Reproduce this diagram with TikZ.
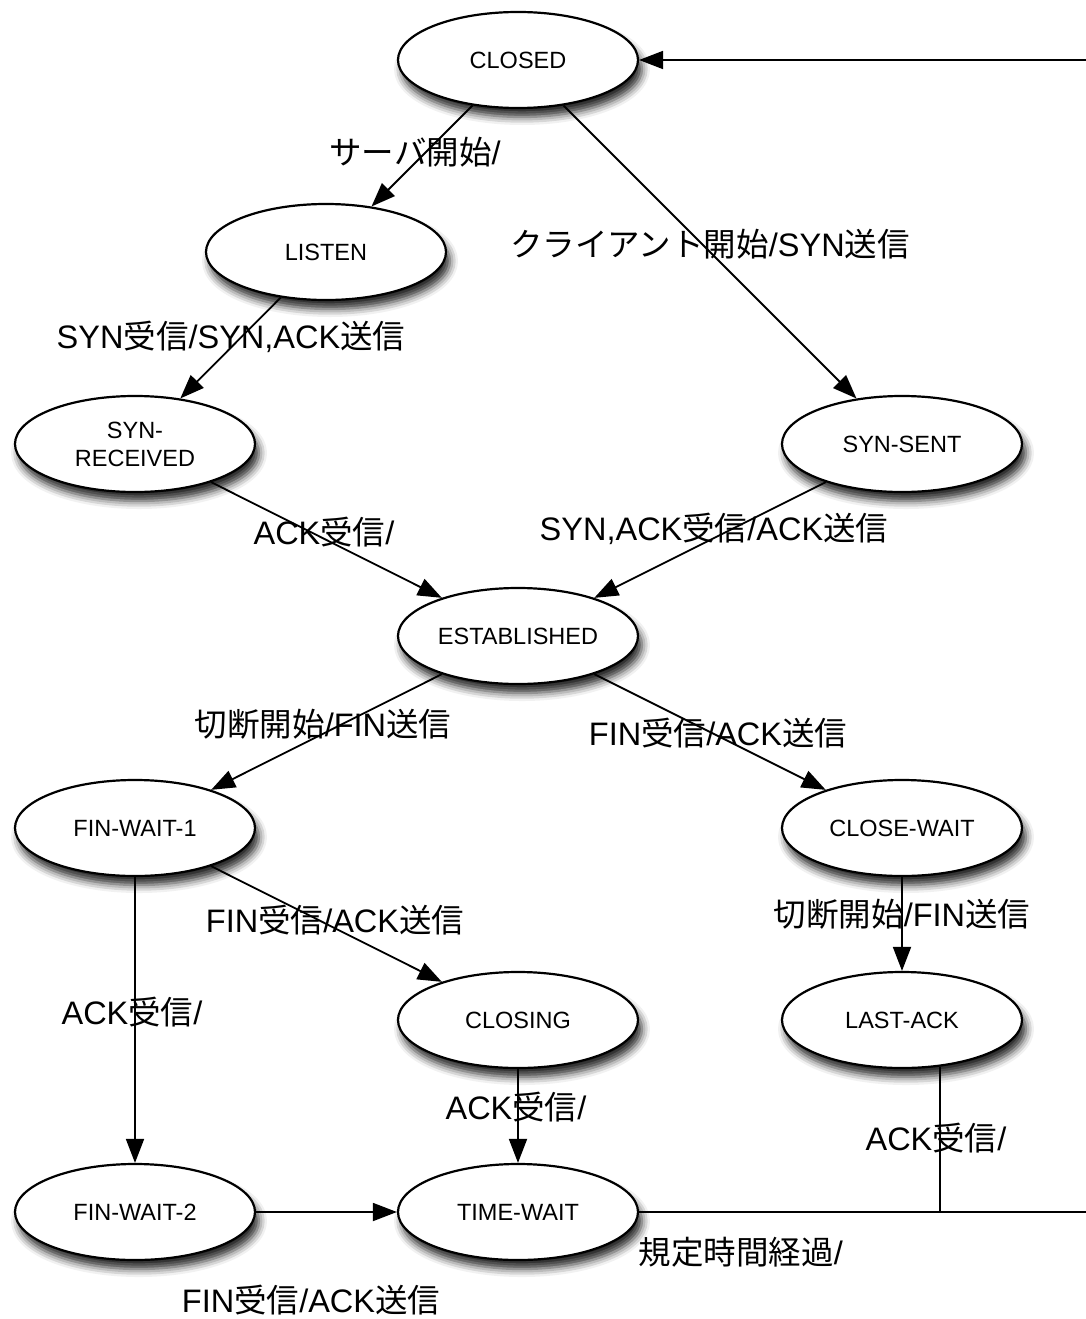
\documentclass[tikz,border=0pt]{standalone}
\usepackage{fontspec}
\setmainfont{Liberation Sans}
\newfontfamily\cjk{Noto Sans CJK JP}
\newcommand\J[1]{{\cjk #1}}
\usetikzlibrary{shapes.geometric,arrows.meta,shadows.blur}
\begin{document}
\begin{tikzpicture}[x=1pt,y=-1pt,
  state/.style={ellipse,draw,line width=2.2pt,fill=white,minimum width=240pt,minimum height=96pt,inner sep=0pt,
    font=\fontsize{23.5}{28}\selectfont,align=center,
    blur shadow={shadow xshift=4pt,shadow yshift=-9pt,shadow blur radius=8pt,shadow opacity=85}},
  lbl/.style={font=\fontsize{32.5}{36}\selectfont,inner sep=0pt},
  edge/.style={line width=1.8pt,-{Triangle[length=24pt,width=18pt]}},
  plain/.style={line width=1.8pt}]
\useasboundingbox (0,0) rectangle (1086,1319);
\node[state] (CLOSED) at (518,60) {CLOSED};
\node[state] (LISTEN) at (326,252) {LISTEN};
\node[state] (SYNR) at (135,444) {SYN-\\RECEIVED};
\node[state] (SYNS) at (902,444) {SYN-SENT};
\node[state] (EST) at (518,636) {ESTABLISHED};
\node[state] (FW1) at (135,828) {FIN-WAIT-1};
\node[state] (CW) at (902,828) {CLOSE-WAIT};
\node[state] (CLOSING) at (518,1020) {CLOSING};
\node[state] (LA) at (902,1020) {LAST-ACK};
\node[state] (FW2) at (135,1212) {FIN-WAIT-2};
\node[state] (TW) at (518,1212) {TIME-WAIT};
\coordinate (rb) at (1100,1212);
\coordinate (rt) at (1100,60);
\draw[edge] (CLOSED) -- (LISTEN);
\draw[edge] (CLOSED) -- (SYNS);
\draw[edge] (LISTEN) -- (SYNR);
\draw[edge] (SYNR) -- (EST);
\draw[edge] (SYNS) -- (EST);
\draw[edge] (EST) -- (FW1);
\draw[edge] (EST) -- (CW);
\draw[edge] (FW1) -- (CLOSING);
\draw[edge] (FW1) -- (FW2);
\draw[edge] (CW) -- (LA);
\draw[edge] (CLOSING) -- (TW);
\draw[edge] (FW2) -- (TW);
\draw[plain] (TW) -- (rb) -- (rt);
\draw[edge] (rt) -- (CLOSED);
\draw[plain] (LA.-51.8) -- (LA.-51.8 |- TW.east);
\node[lbl] (l1) at (415,152) {\J{サーバ開始}/};
\node[lbl] (l2) at (710,244) {\J{クライアント開始}/SYN\J{送信}};
\node[lbl] (l3) at (231,337) {SYN\J{受信}/SYN,ACK\J{送信}};
\node[lbl] (l4) at (324,532) {ACK\J{受信}/};
\node[lbl] (l5) at (714,529) {SYN,ACK\J{受信}/ACK\J{送信}};
\node[lbl] (l6) at (323,724) {\J{切断開始}/FIN\J{送信}};
\node[lbl] (l7) at (718,733) {FIN\J{受信}/ACK\J{送信}};
\node[lbl] (l8) at (335,920) {FIN\J{受信}/ACK\J{送信}};
\node[lbl] (l9) at (902,914) {\J{切断開始}/FIN\J{送信}};
\node[lbl] (l10) at (132,1012) {ACK\J{受信}/};
\node[lbl] (l11) at (516,1107) {ACK\J{受信}/};
\node[lbl] (l12) at (936,1138) {ACK\J{受信}/};
\node[lbl] (l13) at (741,1252) {\J{規定時間経過}/};
\node[lbl] (l14) at (311,1300) {FIN\J{受信}/ACK\J{送信}};
\end{tikzpicture}
\end{document}
